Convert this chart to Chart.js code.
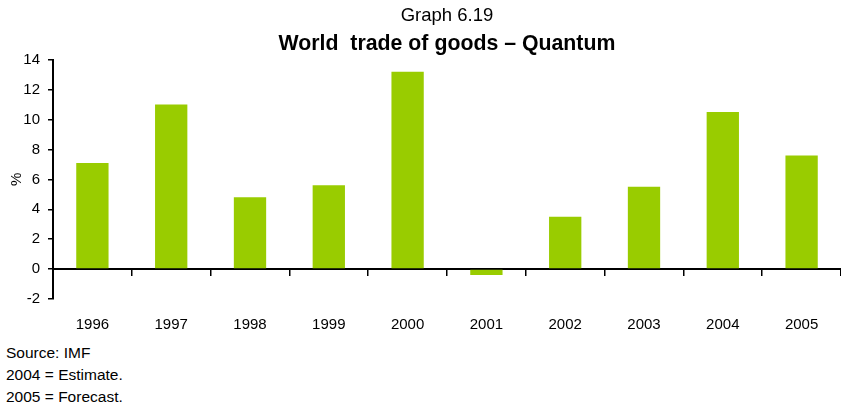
<!DOCTYPE html>
<html>
<head>
<meta charset="utf-8">
<script src="https://cdn.jsdelivr.net/npm/chart.js@4/dist/chart.umd.min.js"></script>
<style>
  body { margin: 0; background: #fff; }
  #wrap { position: relative; width: 841px; height: 404px; font-family: "Liberation Sans", Arial, sans-serif; }
  #notes { position: absolute; left: 6px; top: 342px; font-size: 15.5px; line-height: 22px; color: #000; }
</style>
</head>
<body>
<div id="wrap">
  <canvas id="tradeChart" width="841" height="340"></canvas>
  <div id="notes">
    <div>Source: IMF</div>
    <div>2004 = Estimate.</div>
    <div>2005 = Forecast.</div>
  </div>
</div>
<script>
// Annual change in world trade volume, %
const years = ['1996', '1997', '1998', '1999', '2000', '2001', '2002', '2003', '2004', '2005'];
const growth = [7.1, 11.0, 4.8, 5.6, 13.2, -0.4, 3.5, 5.5, 10.5, 7.6];
const yTicks = [-2, 0, 2, 4, 6, 8, 10, 12, 14];

const font = 'Liberation Sans, Arial, sans-serif';
const ctx = document.getElementById('tradeChart').getContext('2d');

new Chart(ctx, {
  type: 'bar',
  data: {
    labels: years,
    datasets: [{
      data: growth,
      backgroundColor: '#99cc00',
      borderWidth: 0,
      barPercentage: 0.41,
      categoryPercentage: 1
    }]
  },
  options: {
    responsive: false,
    animation: false,
    layout: { padding: 0 },
    plugins: {
      legend: { display: false },
      tooltip: { enabled: false },
      // both headings centred over the plot area
      title: {
        display: true,
        fullSize: false,
        text: 'Graph 6.19',
        color: '#000',
        font: { family: font, size: 18.5, weight: 'normal', lineHeight: 1.2 },
        padding: { top: 5, bottom: 0 }
      },
      subtitle: {
        display: true,
        fullSize: false,
        text: 'World  trade of goods \u2013 Quantum',
        color: '#000',
        font: { family: font, size: 21.3, weight: 'bold', lineHeight: 1.2 },
        padding: { top: 4, bottom: 3 }
      }
    },
    scales: {
      // category labels sit along the bottom edge
      x: {
        position: 'bottom',
        offset: true,
        grid: { display: false, drawTicks: false },
        border: { display: false },
        ticks: { color: '#000', font: { family: font, size: 15 }, padding: 17 },
        afterFit: s => { s.height = 41; }
      },
      // the zero line with its category tick marks
      x2: {
        type: 'category',
        position: { y: 0 },
        offset: true,
        grid: { offset: true, drawOnChartArea: false, drawTicks: true, tickLength: 6, color: '#000', lineWidth: 1.5 },
        border: { display: true, color: '#000', width: 2 },
        ticks: { display: false }
      },
      y: {
        min: -2,
        max: 14,
        afterBuildTicks: s => { s.ticks = yTicks.map(v => ({ value: v })); },
        grid: { drawOnChartArea: false, drawTicks: true, tickLength: 5, color: '#000', lineWidth: 1.5 },
        border: { display: true, color: '#000', width: 2 },
        ticks: { color: '#000', font: { family: font, size: 15 }, padding: 8 },
        title: {
          display: true,
          text: '%',
          color: '#000',
          font: { family: font, size: 15 },
          padding: { top: 8, bottom: 0 }
        },
        afterFit: s => { s.width = 53; }
      }
    }
  }
});
</script>
</body>
</html>
